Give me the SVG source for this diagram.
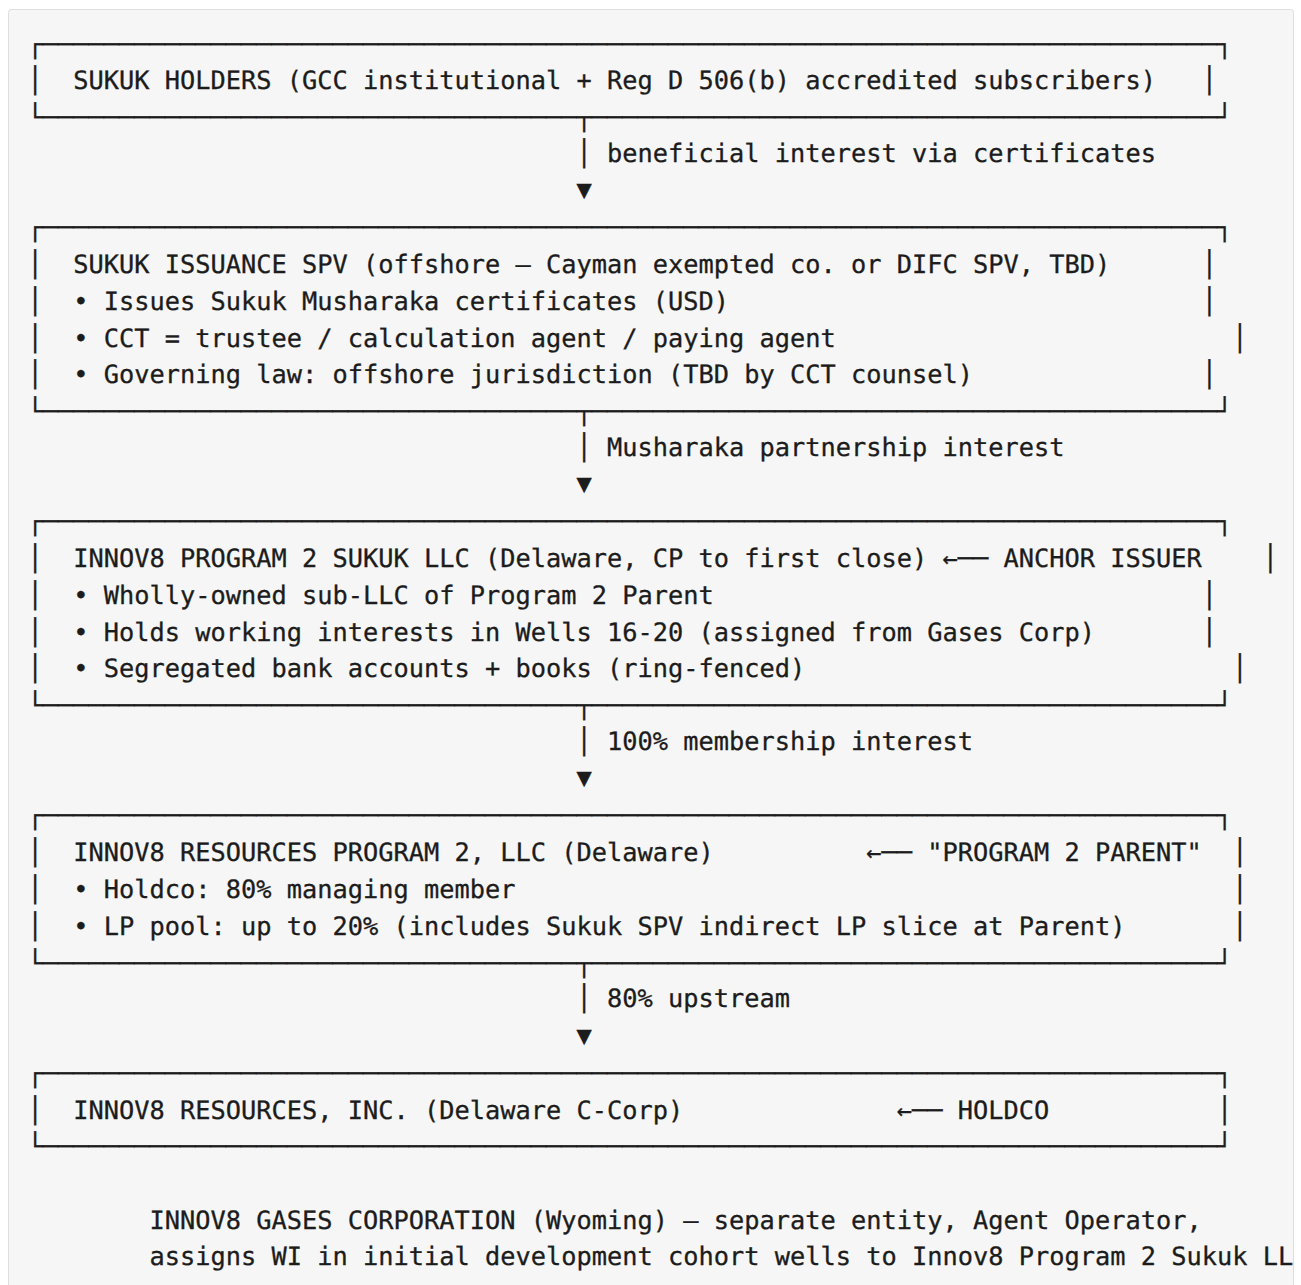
<svg xmlns="http://www.w3.org/2000/svg" width="1301" height="1285" viewBox="0 0 1301 1285" xml:space="preserve">
<style>
.t { font-family: "DejaVu Sans Mono", "Liberation Mono", monospace; font-size: 25.33px; fill: #1c1c1c; stroke: #1c1c1c; stroke-width: 0.3px; white-space: pre; text-rendering: geometricPrecision; }
</style>
<rect x="0" y="0" width="1301" height="1285" fill="#ffffff"/>
<rect x="8.5" y="9.5" width="1285" height="1300" rx="3" fill="#f6f6f6" stroke="#dedede" stroke-width="1"/>

<g id="node-sukuk-holders">
<text class="t" x="27.5" y="52.5" textLength="1204.75" lengthAdjust="spacing">┌─────────────────────────────────────────────────────────────────────────────┐</text>
<text class="t" x="27.5" y="89.26" textLength="1189.5" lengthAdjust="spacing">│  SUKUK HOLDERS (GCC institutional + Reg D 506(b) accredited subscribers)   │</text>
<text class="t" x="27.5" y="126.02" textLength="1204.75" lengthAdjust="spacing">└───────────────────────────────────┬─────────────────────────────────────────┘</text>
</g>

<g id="node-issuance-spv">
<text class="t" x="27.5" y="236.3" textLength="1204.75" lengthAdjust="spacing">┌─────────────────────────────────────────────────────────────────────────────┐</text>
<text class="t" x="27.5" y="273.06" textLength="1189.5" lengthAdjust="spacing">│  SUKUK ISSUANCE SPV (offshore — Cayman exempted co. or DIFC SPV, TBD)      │</text>
<text class="t" x="27.5" y="309.82" textLength="1189.5" lengthAdjust="spacing">│  • Issues Sukuk Musharaka certificates (USD)                               │</text>
<text class="t" x="27.5" y="346.58" textLength="1220" lengthAdjust="spacing">│  • CCT = trustee / calculation agent / paying agent                          │</text>
<text class="t" x="27.5" y="383.34" textLength="1189.5" lengthAdjust="spacing">│  • Governing law: offshore jurisdiction (TBD by CCT counsel)               │</text>
<text class="t" x="27.5" y="420.1" textLength="1204.75" lengthAdjust="spacing">└───────────────────────────────────┬─────────────────────────────────────────┘</text>
</g>

<g id="node-sukuk-llc">
<text class="t" x="27.5" y="530.38" textLength="1204.75" lengthAdjust="spacing">┌─────────────────────────────────────────────────────────────────────────────┐</text>
<text class="t" x="27.5" y="567.14" textLength="1250.5" lengthAdjust="spacing">│  INNOV8 PROGRAM 2 SUKUK LLC (Delaware, CP to first close) ←── ANCHOR ISSUER    │</text>
<text class="t" x="27.5" y="603.9" textLength="1189.5" lengthAdjust="spacing">│  • Wholly-owned sub-LLC of Program 2 Parent                                │</text>
<text class="t" x="27.5" y="640.66" textLength="1189.5" lengthAdjust="spacing">│  • Holds working interests in Wells 16-20 (assigned from Gases Corp)       │</text>
<text class="t" x="27.5" y="677.42" textLength="1220" lengthAdjust="spacing">│  • Segregated bank accounts + books (ring-fenced)                            │</text>
<text class="t" x="27.5" y="714.18" textLength="1204.75" lengthAdjust="spacing">└───────────────────────────────────┬─────────────────────────────────────────┘</text>
</g>

<g id="node-program2-parent">
<text class="t" x="27.5" y="824.46" textLength="1204.75" lengthAdjust="spacing">┌─────────────────────────────────────────────────────────────────────────────┐</text>
<text class="t" x="27.5" y="861.22" textLength="1220" lengthAdjust="spacing">│  INNOV8 RESOURCES PROGRAM 2, LLC (Delaware)          ←── "PROGRAM 2 PARENT"  │</text>
<text class="t" x="27.5" y="897.98" textLength="1220" lengthAdjust="spacing">│  • Holdco: 80% managing member                                               │</text>
<text class="t" x="27.5" y="934.74" textLength="1220" lengthAdjust="spacing">│  • LP pool: up to 20% (includes Sukuk SPV indirect LP slice at Parent)       │</text>
<text class="t" x="27.5" y="971.5" textLength="1204.75" lengthAdjust="spacing">└───────────────────────────────────┬─────────────────────────────────────────┘</text>
</g>

<g id="node-holdco">
<text class="t" x="27.5" y="1081.78" textLength="1204.75" lengthAdjust="spacing">┌─────────────────────────────────────────────────────────────────────────────┐</text>
<text class="t" x="27.5" y="1118.54" textLength="1204.75" lengthAdjust="spacing">│  INNOV8 RESOURCES, INC. (Delaware C-Corp)              ←── HOLDCO           │</text>
<text class="t" x="27.5" y="1155.3" textLength="1204.75" lengthAdjust="spacing">└─────────────────────────────────────────────────────────────────────────────┘</text>
</g>

<g id="connectors">
<text class="t" x="576.5" y="161.5">│ beneficial interest via certificates</text>
<text class="t" x="576.5" y="198">▼</text>
<text class="t" x="576.5" y="455.6">│ Musharaka partnership interest</text>
<text class="t" x="576.5" y="492.1">▼</text>
<text class="t" x="576.5" y="749.7">│ 100% membership interest</text>
<text class="t" x="576.5" y="786.2">▼</text>
<text class="t" x="576.5" y="1007">│ 80% upstream</text>
<text class="t" x="576.5" y="1043.5">▼</text>
</g>

<g id="note-gases-corp">
<text class="t" x="149.5" y="1228.82">INNOV8 GASES CORPORATION (Wyoming) — separate entity, Agent Operator,</text>
<text class="t" x="149.5" y="1265">assigns WI in initial development cohort wells to Innov8 Program 2 Sukuk LL</text>
</g>
</svg>
